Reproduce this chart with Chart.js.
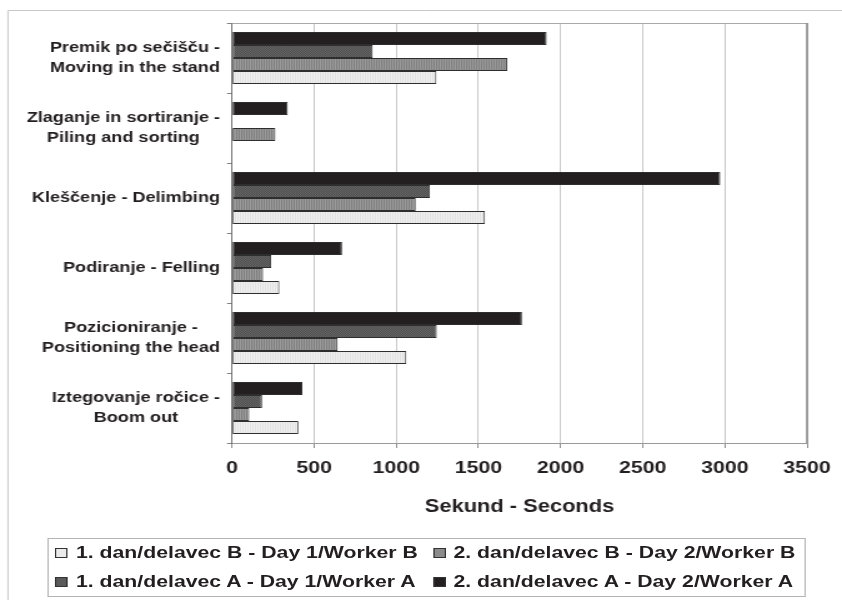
<!DOCTYPE html>
<html><head><meta charset="utf-8">
<script src="https://cdn.jsdelivr.net/npm/chart.js@4.4.1/dist/chart.umd.min.js"></script>
<style>
html,body{margin:0;padding:0;background:#fff;overflow:hidden;width:842px;height:600px}
#wrap{position:absolute;left:0;top:0;width:674px;height:600px;transform:scaleX(1.24926);transform-origin:0 0;}
#c{position:absolute;left:0;top:0;}
#lbox{position:absolute;left:38.4px;top:538px;width:606.8px;height:59px;border:1px solid #b4b4b4;box-sizing:border-box}
.lg{position:absolute;font:bold 17px "Liberation Sans",Arial,sans-serif;color:#231f20;line-height:20px;white-space:nowrap}
.sw{position:absolute;width:10.5px;height:10px;border:1px solid #333;box-sizing:border-box}
</style>
</head><body>
<div id="wrap">
<canvas id="c" width="674" height="600"></canvas>
<div id="lbox"></div>
<div id="legend"></div>
</div>
<script>
// ---- data ----
const categories = [
  ["Premik po sečišču -", "Moving in the stand"],
  ["Zlaganje in sortiranje -", "Piling and sorting"],
  ["Kleščenje - Delimbing"],
  ["Podiranje - Felling"],
  ["Pozicioniranje -", "Positioning the head"],
  ["Iztegovanje ročice -", "Boom out"]
];
const seriesNames = [
  "2. dan/delavec A - Day 2/Worker A",
  "1. dan/delavec A - Day 1/Worker A",
  "2. dan/delavec B - Day 2/Worker B",
  "1. dan/delavec B - Day 1/Worker B"
];
const day2WorkerA = [1915, 339, 2972, 670, 1765, 428];
const day1WorkerA = [856, null, 1205, 239, 1246, 183];
const day2WorkerB = [1676, 264, 1118, 189, 643, 105];
const day1WorkerB = [1244, null, 1540, 288, 1061, 404];
const xTicks = [0, 500, 1000, 1500, 2000, 2500, 3000, 3500];
const xTitle = "Sekund - Seconds";

// ---- styling ----
const FONT = '"Liberation Sans", Arial, sans-serif';
const TXT = '#231f20';
function pat(base, alt, type) {
  const c = document.createElement('canvas'); c.width = 2; c.height = 2;
  const x = c.getContext('2d');
  x.fillStyle = base; x.fillRect(0, 0, 2, 2);
  x.fillStyle = alt;
  if (type === 'v') x.fillRect(0, 0, 1, 2); else { x.fillRect(0, 0, 1, 1); x.fillRect(1, 1, 1, 1); }
  return x.createPattern(c, 'repeat');
}
const fills = [
  '#231f20',
  pat('#4e4e4e', '#666666', 'c'),
  pat('#808080', '#9a9a9a', 'v'),
  pat('#f0f0f0', '#e2e2e2', 'v')
];
const swatchCss = ['#231f20', '#5a5a5a', '#8c8c8c', '#ebebeb'];
const seriesData = [day2WorkerA, day1WorkerA, day2WorkerB, day1WorkerB];

const LABEL_RIGHT = 176.1;

const framePlugin = {
  id: 'frame',
  beforeDraw(chart) {
    const ctx = chart.ctx;
    ctx.save();
    ctx.strokeStyle = '#c8c8c8'; ctx.lineWidth = 1;
    ctx.beginPath();
    ctx.moveTo(6.4, 600); ctx.lineTo(6.4, 10.5); ctx.lineTo(674, 10.5);
    ctx.stroke();
    ctx.restore();
  },
  afterDatasetsDraw(chart) {
    const ctx = chart.ctx, a = chart.chartArea;
    ctx.save();
    ctx.strokeStyle = '#a8a8a8'; ctx.lineWidth = 1;
    ctx.beginPath(); ctx.moveTo(a.left, a.top + 0.5); ctx.lineTo(a.right, a.top + 0.5); ctx.stroke();
    ctx.strokeStyle = '#8c8c8c'; ctx.lineWidth = 1.6;
    ctx.beginPath(); ctx.moveTo(a.right, a.top); ctx.lineTo(a.right, a.bottom); ctx.stroke();
    ctx.restore();
  },
  afterDraw(chart) {
    const ys = chart.scales.y, ctx = chart.ctx;
    ctx.save();
    ctx.font = 'bold 14.5px ' + FONT;
    ctx.fillStyle = TXT;
    ctx.textAlign = 'center'; ctx.textBaseline = 'middle';
    chart.data.labels.forEach((lines, i) => {
      const yc = ys.getPixelForValue(i);
      const w = Math.max(...lines.map(l => ctx.measureText(l).width));
      const xc = LABEL_RIGHT - w / 2;
      lines.forEach((l, k) => ctx.fillText(l, xc, yc + (k - (lines.length - 1) / 2) * 20));
    });
    ctx.restore();
  }
};

new Chart(document.getElementById('c'), {
  type: 'bar',
  data: {
    labels: categories,
    datasets: seriesData.map((d, i) => ({
      label: seriesNames[i],
      data: d,
      backgroundColor: fills[i],
      borderColor: '#2e2e2e',
      borderWidth: 1,
      borderSkipped: false,
      categoryPercentage: 0.743,
      barPercentage: 1
    }))
  },
  options: {
    indexAxis: 'y',
    responsive: false,
    devicePixelRatio: 1,
    animation: false,
    layout: { padding: { left: 0, right: 28, top: 23, bottom: 82.5 } },
    plugins: { legend: { display: false }, tooltip: { enabled: false } },
    scales: {
      x: {
        type: 'linear', min: xTicks[0], max: xTicks[xTicks.length - 1],
        afterBuildTicks(s) { s.ticks = xTicks.map(v => ({ value: v })); },
        ticks: { font: { family: FONT, size: 17, weight: 'bold' }, color: TXT, padding: 9.8, maxRotation: 0, autoSkip: false,
                 callback: v => String(v) },
        grid: { color: '#c8c8c8', tickLength: 5, tickColor: '#909090', drawTicks: true },
        border: { display: true, color: '#9a9a9a' },
        title: { display: true, text: xTitle, color: TXT, padding: 0, font: { family: FONT, size: 17.5, weight: 'bold' } },
        afterFit(s) { s.height = 74.5; s.paddingLeft = 0; s.paddingRight = 0; }
      },
      y: {
        type: 'category',
        ticks: { display: false },
        grid: { drawOnChartArea: false, drawTicks: true, tickLength: 4, tickColor: '#808080', offset: true },
        border: { display: true, color: '#707070' },
        afterFit(s) { s.width = 185.7; s.paddingTop = 0; s.paddingBottom = 0; }
      }
    }
  },
  plugins: [framePlugin]
});

// ---- legend (HTML text) ----
const legendOrder = [3, 2, 1, 0];
const pos = [
  { sx: 43.5, tx: 60.8, y: 553 },
  { sx: 346.6, tx: 363, y: 553 },
  { sx: 43.5, tx: 60.8, y: 582 },
  { sx: 346.6, tx: 363, y: 582 }
];
const lg = document.getElementById('legend');
legendOrder.forEach((di, k) => {
  const p = pos[k];
  const sw = document.createElement('div');
  sw.className = 'sw';
  sw.style.left = p.sx + 'px'; sw.style.top = (p.y - 5) + 'px';
  sw.style.background = swatchCss[di];
  lg.appendChild(sw);
  const t = document.createElement('div');
  t.className = 'lg';
  t.style.left = p.tx + 'px'; t.style.top = (p.y - 10) + 'px';
  t.textContent = seriesNames[di];
  lg.appendChild(t);
});
</script>
</body></html>
